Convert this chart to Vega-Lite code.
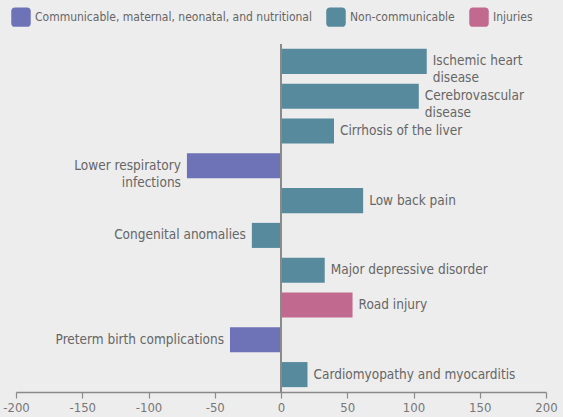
{
  "$schema": "https://vega.github.io/schema/vega-lite/v6.json",
  "width": 530,
  "height": 348,
  "autosize": {"type": "none"},
  "padding": {"left": 16, "top": 44, "right": 17, "bottom": 25},
  "background": "#ededed",
  "config": {
    "view": {"stroke": null},
    "font": "DejaVu Sans Condensed",
    "text": {"font": "DejaVu Sans Condensed"}
  },
  "data": {
    "values": [
      {"cause": "Ischemic heart\ndisease", "value": 110, "cat": "Non-communicable"},
      {"cause": "Cerebrovascular\ndisease", "value": 104, "cat": "Non-communicable"},
      {"cause": "Cirrhosis of the liver", "value": 40, "cat": "Non-communicable"},
      {"cause": "Lower respiratory\ninfections", "value": -71, "cat": "Communicable, maternal, neonatal, and nutritional"},
      {"cause": "Low back pain", "value": 62, "cat": "Non-communicable"},
      {"cause": "Congenital anomalies", "value": -22, "cat": "Non-communicable"},
      {"cause": "Major depressive disorder", "value": 33, "cat": "Non-communicable"},
      {"cause": "Road injury", "value": 54, "cat": "Injuries"},
      {"cause": "Preterm birth complications", "value": -38.5, "cat": "Communicable, maternal, neonatal, and nutritional"},
      {"cause": "Cardiomyopathy and myocarditis", "value": 20, "cat": "Non-communicable"}
    ]
  },
  "encoding": {
    "y": {"field": "cause", "type": "nominal", "sort": null, "axis": null,
          "scale": {"paddingInner": 0.28, "paddingOuter": 0.14}}
  },
  "layer": [
    {
      "mark": {"type": "bar", "cornerRadius": 0},
      "encoding": {
        "x": {"field": "value", "type": "quantitative",
              "scale": {"domain": [-200, 200], "nice": false},
              "axis": {"values": [-200, -150, -100, -50, 0, 50, 100, 150, 200], "grid": false, "title": null,
                       "labelExpr": "replace(datum.label, '−', '-')",
                       "domainColor": "#8a8a8a", "domainWidth": 1.5, "tickColor": "#8a8a8a", "tickSize": 6, "tickWidth": 1.2,
                       "labelColor": "#777777", "labelFontSize": 13, "labelFont": "DejaVu Sans Condensed", "labelPadding": 3,
                       "labelFlush": false}},
        "color": {"field": "cat", "type": "nominal",
                  "scale": {"domain": ["Communicable, maternal, neonatal, and nutritional", "Non-communicable", "Injuries"],
                            "range": ["#6e72b6", "#578a9d", "#c2698f"]},
                  "legend": {"title": null, "orient": "none", "direction": "horizontal", "legendX": -5, "legendY": -37,
                             "symbolType": "M-1,-0.6 Q-1,-1 -0.6,-1 L0.6,-1 Q1,-1 1,-0.6 L1,0.6 Q1,1 0.6,1 L-0.6,1 Q-1,1 -1,0.6 Z",
                             "symbolSize": 380, "symbolStrokeWidth": 0, "symbolOpacity": 1,
                             "labelFont": "DejaVu Sans Condensed", "labelFontSize": 12, "labelColor": "#666666",
                             "labelOffset": 4, "columnPadding": 14, "labelLimit": 400}}
      }
    },
    {
      "mark": {"type": "rule", "color": "#8a8a8a", "strokeWidth": 2},
      "encoding": {"x": {"datum": 0}, "y": {"value": 0}, "y2": {"value": 348}}
    },
    {
      "transform": [{"filter": "datum.value >= 0"}],
      "mark": {"type": "text", "align": "left", "baseline": "middle", "dx": 6, "lineBreak": "\n", "lineHeight": 17,
               "fontSize": 13.5, "color": "#666666", "font": "DejaVu Sans Condensed"},
      "encoding": {"x": {"field": "value", "type": "quantitative"}, "text": {"field": "cause"}}
    },
    {
      "transform": [{"filter": "datum.value < 0"}],
      "mark": {"type": "text", "align": "right", "baseline": "middle", "dx": -6, "lineBreak": "\n", "lineHeight": 17,
               "fontSize": 13.5, "color": "#666666", "font": "DejaVu Sans Condensed"},
      "encoding": {"x": {"field": "value", "type": "quantitative"}, "text": {"field": "cause"}}
    }
  ]
}
